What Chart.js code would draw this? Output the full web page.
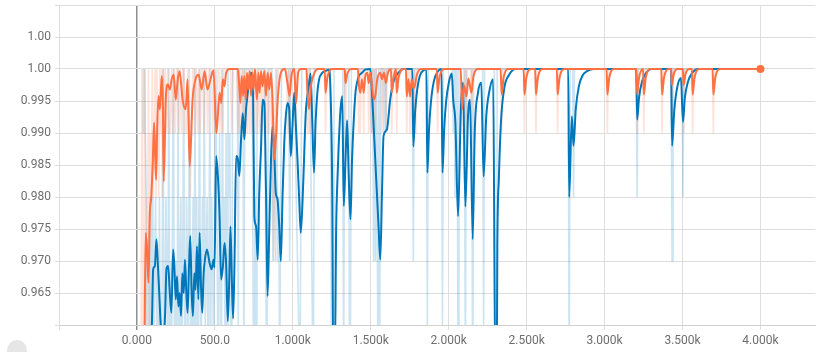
<!DOCTYPE html>
<html>
<head>
<meta charset="utf-8">
<script src="https://cdn.jsdelivr.net/npm/chart.js@4"></script>
<style>
  html, body { margin: 0; padding: 0; background: #fff; }
  #wrap { width: 819px; height: 352px; }
</style>
</head>
<body>
<div id="wrap"><canvas id="chart1"></canvas></div>

<script>
    // [step, accuracy]
    const orangeRaw = [
        [25,0.95],[32,1.0],[38,0.95],[44,0.97],[50,1.0],[56,0.96],[62,0.98],[68,0.97],[74,1.0],[80,0.96],
        [86,0.99],[92,0.98],[98,1.0],[104,0.98],[110,0.99],[116,1.0],[122,0.98],[128,1.0],[134,0.99],[140,0.98],
        [146,1.0],[152,0.99],[158,1.0],[164,0.98],[170,1.0],[176,0.99],[182,1.0],[190,0.99],[198,1.0],[206,0.99],
        [214,0.99],[222,1.0],[230,0.99],[238,1.0],[246,0.99],[254,1.0],[262,1.0],[270,0.99],[278,1.0],[286,0.99],
        [294,1.0],[302,1.0],[310,0.99],[318,0.99],[326,1.0],[334,0.99],[342,0.98],[350,0.99],[358,1.0],[366,1.0],
        [374,0.99],[382,1.0],[390,0.99],[398,1.0],[406,0.99],[414,1.0],[422,1.0],[430,0.99],[438,1.0],[446,1.0],
        [454,0.99],[462,1.0],[478,1.0],[486,0.99],[494,1.0],[502,0.99],[510,0.99],[518,1.0],[526,1.0],[534,0.99],
        [542,1.0],[550,0.99],[558,1.0],[600,1.0],[608,0.99],[616,1.0],[640,1.0],[648,0.99],[656,1.0],[662,0.99],
        [668,1.0],[674,0.99],[680,1.0],[686,0.99],[692,1.0],[698,0.99],[704,1.0],[710,0.99],[716,1.0],[724,0.99],
        [730,1.0],[738,0.99],[744,1.0],[752,1.0],[760,0.99],[766,1.0],[774,0.99],[780,1.0],[790,0.99],[796,1.0],
        [806,0.99],[812,1.0],[820,0.99],[826,1.0],[834,0.99],[840,1.0],[848,0.99],[856,1.0],[864,0.99],[872,0.98],
        [878,0.97],[884,0.99],[890,1.0],[898,0.99],[906,1.0],[960,1.0],[966,0.99],[972,1.0],[978,0.99],[984,1.0],
        [1012,1.0],[1018,0.99],[1024,1.0],[1088,1.0],[1094,0.99],[1100,1.0],[1104,0.99],[1110,1.0],[1204,1.0],[1210,0.99],
        [1216,1.0],[1332,1.0],[1338,0.99],[1344,1.0],[1417,1.0],[1423,0.99],[1429,1.0],[1433,0.99],[1439,1.0],[1449,1.0],
        [1455,0.99],[1461,1.0],[1481,1.0],[1487,0.99],[1493,1.0],[1502,1.0],[1508,0.99],[1514,1.0],[1519,0.99],[1525,1.0],
        [1529,0.99],[1535,1.0],[1566,1.0],[1572,0.99],[1578,1.0],[1591,1.0],[1597,0.99],[1603,1.0],[1629,1.0],[1635,0.99],
        [1641,1.0],[1661,1.0],[1667,0.99],[1673,1.0],[1725,1.0],[1731,0.99],[1737,1.0],[1746,1.0],[1752,0.99],[1758,1.0],
        [1778,1.0],[1784,0.99],[1790,1.0],[1923,1.0],[1929,0.99],[1935,1.0],[2080,1.0],[2086,0.99],[2092,0.99],[2098,1.0],
        [2108,1.0],[2114,0.99],[2120,1.0],[2140,1.0],[2146,0.99],[2152,1.0],[2334,1.0],[2340,0.99],[2346,1.0],[2480,1.0],
        [2486,0.99],[2492,1.0],[2554,1.0],[2560,0.99],[2566,1.0],[2693,1.0],[2699,0.99],[2705,1.0],[3012,1.0],[3018,0.99],
        [3024,1.0],[3203,1.0],[3209,0.99],[3215,1.0],[3246,1.0],[3252,0.99],[3258,1.0],[3363,1.0],[3369,0.99],[3375,1.0],
        [3426,1.0],[3432,0.99],[3438,1.0],[3501,1.0],[3507,0.99],[3513,1.0],[3559,1.0],[3565,0.99],[3571,1.0],[3692,1.0],
        [3698,0.99],[3704,1.0],[4000,1.0]
    ];

    const orangeSmooth = [
        [48,0.955],[56,0.9744],[64,0.9723],[74,0.9666],[82,0.977],[92,0.980],[102,0.9858],[110,0.9916],[116,0.987],[123,0.9827],
        [130,0.991],[138,0.9958],[147,0.9937],[153,0.9963],[160,0.9989],[166,0.995],[172,0.9824],[185,0.9952],[198,0.9976],[211,0.9968],
        [223,0.9984],[236,0.9991],[249,0.9952],[262,0.9984],[274,0.9996],[293,0.9952],[313,0.9937],[325,0.9984],[338,0.9848],[357,0.9952],
        [376,0.9984],[396,0.9991],[415,0.9968],[434,0.9996],[453,0.9968],[472,0.9984],[491,0.9998],[510,0.990],[530,0.9963],[541,0.9947],
        [551,0.9984],[562,0.9973],[572,0.9994],[594,1.0],[647,1.0],[655,0.9978],[664,0.9947],[672,0.9989],[681,0.9958],[689,0.9989],
        [698,0.9952],[706,0.9994],[715,0.9968],[723,0.9997],[732,0.9958],[740,0.9994],[749,0.9968],[757,1.0],[770,0.9952],[779,0.9994],
        [787,0.9963],[796,0.9997],[806,0.9973],[817,0.9997],[828,0.9958],[838,0.9994],[849,0.9968],[860,0.9994],[870,0.9952],[881,0.9859],
        [892,0.9895],[902,0.9947],[915,0.9984],[928,0.9997],[949,1.0],[966,0.9978],[979,0.9958],[991,0.9989],[1009,1.0],[1021,0.9947],
        [1034,0.9994],[1051,1.0],[1088,1.0],[1093,0.9968],[1104,0.9937],[1117,0.9974],[1134,0.9991],[1160,1.0],[1204,1.0],[1210,0.9963],
        [1222,0.9987],[1255,1.0],[1333,1.0],[1338,0.9978],[1350,0.9993],[1380,1.0],[1418,1.0],[1423,0.9978],[1433,0.9963],[1444,0.9984],
        [1455,0.9963],[1465,0.9989],[1478,0.9994],[1487,0.9978],[1497,0.9994],[1508,0.9973],[1519,0.9952],[1529,0.9958],[1542,0.9984],[1561,0.9994],
        [1572,0.9984],[1585,0.9994],[1597,0.9978],[1610,0.9994],[1630,1.0],[1635,0.9963],[1647,0.9987],[1662,1.0],[1667,0.9963],[1679,0.9987],
        [1710,1.0],[1726,1.0],[1731,0.9957],[1742,0.9984],[1752,0.9957],[1763,0.9984],[1773,0.997],[1784,0.9975],[1796,0.9991],[1825,1.0],
        [1924,1.0],[1929,0.9963],[1941,0.9987],[1975,1.0],[2077,1.0],[2086,0.9937],[2098,0.9975],[2114,0.9957],[2126,0.9985],[2146,0.9963],
        [2158,0.9987],[2190,1.0],[2333,1.0],[2340,0.996],[2352,0.9986],[2385,1.0],[2481,1.0],[2486,0.996],[2498,0.9986],[2530,1.0],
        [2555,1.0],[2560,0.996],[2572,0.9986],[2605,1.0],[2694,1.0],[2699,0.996],[2711,0.9986],[2745,1.0],[3013,1.0],[3018,0.996],
        [3030,0.9986],[3062,1.0],[3204,1.0],[3209,0.996],[3221,0.9986],[3247,1.0],[3252,0.996],[3264,0.9986],[3297,1.0],[3364,1.0],
        [3369,0.996],[3381,0.9986],[3414,1.0],[3427,1.0],[3432,0.9975],[3444,0.9992],[3470,1.0],[3502,1.0],[3507,0.9975],[3519,0.9992],
        [3545,1.0],[3560,1.0],[3565,0.996],[3577,0.9986],[3610,1.0],[3693,1.0],[3698,0.996],[3710,0.9986],[3743,1.0],[4000,1.0]
    ];

    const blueRaw = [
        [38,0.99],[42,1.0],[46,0.99],[50,1.0],[54,0.99],[60,0.98],[66,0.95],[72,0.97],[78,0.95],[84,0.98],
        [90,0.96],[96,0.97],[102,0.98],[108,0.95],[114,0.97],[120,0.98],[126,0.96],[132,0.97],[138,0.95],[144,0.98],
        [150,0.96],[156,0.95],[162,0.97],[168,1.0],[174,0.95],[180,0.96],[186,0.98],[192,0.97],[198,0.95],[204,1.0],
        [210,0.96],[216,0.97],[222,0.95],[228,0.98],[234,1.0],[240,0.96],[246,0.95],[252,0.97],[258,0.96],[264,1.0],
        [270,0.95],[276,0.97],[282,0.98],[288,0.95],[294,0.97],[300,1.0],[306,0.96],[312,0.95],[318,0.98],[324,0.97],
        [330,0.95],[336,1.0],[342,0.97],[348,0.95],[354,0.96],[360,0.98],[366,0.95],[372,1.0],[378,0.96],[384,0.98],
        [390,0.95],[396,0.97],[402,1.0],[408,0.95],[414,0.96],[420,0.98],[426,0.97],[432,1.0],[438,0.96],[444,0.97],
        [450,0.98],[456,0.95],[462,0.97],[468,1.0],[474,0.96],[480,0.98],[486,0.97],[492,0.95],[500,0.99],[506,1.0],
        [512,0.98],[518,0.96],[524,0.95],[530,0.99],[536,0.97],[542,0.95],[548,1.0],[554,0.97],[560,0.98],[566,0.95],
        [572,0.99],[578,0.95],[584,1.0],[590,0.98],[596,0.99],[602,0.96],[608,0.95],[614,1.0],[644,1.0],[650,0.96],
        [656,1.0],[680,1.0],[686,0.95],[692,1.0],[740,1.0],[746,0.96],[752,0.95],[758,0.98],[764,0.95],[770,0.99],
        [776,1.0],[820,1.0],[826,0.97],[832,0.95],[838,0.97],[844,1.0],[866,1.0],[872,0.97],[878,0.99],[884,0.98],
        [890,0.97],[896,1.0],[904,0.97],[910,0.98],[916,0.95],[922,0.98],[928,1.0],[974,1.0],[980,0.97],[986,1.0],
        [1010,1.0],[1016,0.99],[1022,0.98],[1030,0.97],[1038,0.96],[1046,0.95],[1052,0.98],[1058,1.0],[1110,1.0],[1118,0.98],
        [1126,0.96],[1132,0.95],[1138,1.0],[1240,1.0],[1246,0.97],[1252,0.90],[1258,0.90],[1264,1.0],[1320,1.0],[1326,0.95],
        [1332,1.0],[1358,1.0],[1364,0.95],[1370,0.96],[1376,1.0],[1500,1.0],[1506,0.99],[1512,1.0],[1518,0.97],[1524,1.0],
        [1530,0.97],[1536,1.0],[1545,0.96],[1551,1.0],[1557,0.95],[1563,1.0],[1578,1.0],[1584,0.99],[1590,1.0],[1597,0.99],
        [1603,1.0],[1767,1.0],[1773,0.97],[1779,1.0],[1857,1.0],[1863,0.96],[1869,1.0],[1954,1.0],[1960,0.96],[1966,1.0],
        [2023,1.0],[2029,0.99],[2035,1.0],[2040,0.98],[2046,1.0],[2054,1.0],[2060,0.95],[2066,1.0],[2101,1.0],[2107,0.95],
        [2113,1.0],[2148,1.0],[2154,0.94],[2160,1.0],[2218,1.0],[2224,0.96],[2230,1.0],[2293,1.0],[2299,0.90],[2305,0.90],
        [2311,1.0],[2767,1.0],[2773,0.95],[2779,1.0],[2795,1.0],[2801,0.98],[2807,1.0],[3203,1.0],[3209,0.98],[3215,1.0],
        [3427,1.0],[3433,0.97],[3439,1.0],[3497,1.0],[3503,0.98],[3509,1.0],[4000,1.0]
    ];

    const blueSmooth = [
        [70,0.955],[96,0.9603],[104,0.9687],[115,0.9692],[125,0.9734],[134,0.9697],[143,0.965],[151,0.9608],[160,0.9582],[172,0.9582],
        [181,0.9619],[189,0.9687],[200,0.9692],[211,0.965],[221,0.9619],[232,0.9718],[240,0.9692],[249,0.964],[257,0.9676],[266,0.9629],
        [274,0.965],[283,0.9614],[291,0.9681],[300,0.965],[308,0.9702],[317,0.965],[325,0.9619],[334,0.9692],[342,0.9739],[351,0.965],
        [359,0.9614],[368,0.9681],[376,0.9655],[385,0.9723],[394,0.964],[402,0.9744],[411,0.9661],[419,0.9619],[428,0.9681],[436,0.9702],
        [449,0.9718],[466,0.9697],[479,0.9687],[491,0.9702],[498,0.969],[508,0.9864],[520,0.983],[530,0.977],[540,0.9671],[551,0.969],
        [562,0.9728],[572,0.9697],[583,0.9606],[592,0.967],[600,0.9754],[609,0.967],[617,0.961],[626,0.970],[636,0.9864],[647,0.986],
        [657,0.9833],[668,0.989],[679,0.9931],[689,0.989],[700,0.9937],[711,0.9963],[721,0.9984],[732,0.9994],[745,0.9968],[753,0.977],
        [764,0.9755],[775,0.9702],[785,0.981],[796,0.9875],[806,0.9952],[817,0.9947],[828,0.981],[838,0.9645],[849,0.975],[860,0.9858],
        [870,0.991],[881,0.9869],[891,0.9806],[902,0.9796],[913,0.9754],[923,0.970],[934,0.980],[945,0.9884],[955,0.9926],[966,0.9947],
        [977,0.9937],[987,0.9864],[998,0.9911],[1009,0.9963],[1020,0.991],[1030,0.9858],[1041,0.9796],[1051,0.9744],[1066,0.9817],[1083,0.9931],
        [1100,0.9968],[1114,0.9993],[1125,0.9916],[1136,0.9838],[1146,0.9916],[1157,0.9962],[1168,0.9983],[1189,0.9994],[1210,0.9997],[1231,0.9999],
        [1242,0.9963],[1253,0.9806],[1259,0.955],[1270,0.955],[1278,0.975],[1287,0.9832],[1295,0.9885],[1306,0.9937],[1317,0.9958],[1327,0.9786],
        [1338,0.9858],[1348,0.992],[1359,0.983],[1370,0.9765],[1380,0.9858],[1391,0.992],[1402,0.9963],[1412,0.9979],[1423,0.9989],[1444,0.9994],
        [1465,0.9999],[1497,1.0],[1508,0.9963],[1529,0.9858],[1550,0.9754],[1561,0.9702],[1572,0.9806],[1582,0.9895],[1603,0.9905],[1625,0.9953],
        [1646,0.998],[1667,0.9991],[1688,0.9997],[1710,1.0],[1767,1.0],[1773,0.9879],[1785,0.9935],[1797,0.9966],[1816,0.999],[1840,0.9998],
        [1857,1.0],[1863,0.9838],[1874,0.9906],[1886,0.9948],[1905,0.9981],[1930,0.9996],[1954,1.0],[1960,0.9838],[1971,0.9906],[1983,0.9948],
        [2002,0.998],[2020,0.9993],[2029,0.9952],[2043,0.9916],[2060,0.977],[2078,0.9937],[2092,0.9979],[2107,0.9785],[2124,0.9926],[2137,0.9952],
        [2154,0.9734],[2167,0.9901],[2188,0.9963],[2209,0.9979],[2224,0.9832],[2241,0.9926],[2263,0.9968],[2285,0.9984],[2300,0.95],[2308,0.95],
        [2312,0.972],[2322,0.983],[2336,0.992],[2358,0.9972],[2385,0.999],[2430,1.0],[2767,1.0],[2773,0.980],[2790,0.9926],[2801,0.988],
        [2815,0.9937],[2836,0.9974],[2857,0.9989],[2890,0.9997],[2930,1.0],[3203,1.0],[3209,0.9921],[3221,0.9955],[3240,0.998],[3270,0.9995],
        [3300,1.0],[3427,1.0],[3433,0.988],[3447,0.9935],[3465,0.997],[3490,0.9986],[3503,0.9917],[3515,0.9955],[3535,0.998],[3560,0.9993],
        [3600,1.0],[4000,1.0]
    ];

    const xTicks = [-500, 0, 500, 1000, 1500, 2000, 2500, 3000, 3500, 4000];
    const yTicks = [0.96, 0.965, 0.97, 0.975, 0.98, 0.985, 0.99, 0.995, 1.0, 1.005, 1.01];

    function toPoints(rows) {
        return rows.map(([x, y]) => ({ x: x, y: y }));
    }

    function stepLabel(v) {
        if (v === 0) return '0.000';
        if (Math.abs(v) < 1000) return v.toFixed(1);
        return (v / 1000).toFixed(3) + 'k';
    }

    // the little round button cut off at the bottom left
    const cornerButton = {
        id: 'cornerButton',
        afterDraw(chart) {
            const c = chart.ctx;
            c.save();
            c.fillStyle = '#e6e6e6';
            c.beginPath();
            c.arc(17, 350, 10, 0, Math.PI * 2);
            c.fill();
            c.restore();
        }
    };

    const ctx = document.getElementById('chart1');
    const lastOrange = orangeSmooth.length - 1;
    const tickFont = { family: 'Roboto', size: 12 };

    new Chart(ctx, {
        type: 'line',
        data: {
            datasets: [
                {
                    data: toPoints(orangeSmooth),
                    borderColor: '#ff7043',
                    backgroundColor: '#ff7043',
                    borderWidth: 2,
                    cubicInterpolationMode: 'monotone',
                    pointRadius: (c) => c.dataIndex === lastOrange ? 4 : 0,
                    pointBorderWidth: 0,
                    order: 0
                },
                {
                    data: toPoints(blueSmooth),
                    borderColor: '#0077bb',
                    borderWidth: 2,
                    cubicInterpolationMode: 'monotone',
                    pointRadius: 0,
                    order: 1
                },
                {
                    data: toPoints(orangeRaw),
                    borderColor: 'rgba(255, 112, 67, 0.2)',
                    borderWidth: 1.6,
                    tension: 0,
                    pointRadius: 0,
                    order: 2
                },
                {
                    data: toPoints(blueRaw),
                    borderColor: 'rgba(0, 119, 187, 0.2)',
                    borderWidth: 1.6,
                    tension: 0,
                    pointRadius: 0,
                    order: 3
                }
            ]
        },
        options: {
            responsive: true,
            maintainAspectRatio: false,
            animation: false,
            events: [],
            layout: { padding: { top: 5, right: 0, bottom: 0, left: 0 } },
            plugins: {
                legend: { display: false },
                tooltip: { enabled: false }
            },
            scales: {
                x: {
                    type: 'linear',
                    min: -500,
                    max: 4350,
                    afterBuildTicks: (scale) => {
                        scale.ticks = xTicks.map(v => ({ value: v }));
                    },
                    afterFit: (scale) => {
                        scale.height = 27;
                        scale.paddingLeft = 0;
                        scale.paddingRight = 0;
                    },
                    grid: {
                        color: (c) => (c.tick && c.tick.value === 0) ? '#8f8f8f' : '#dedede',
                        lineWidth: (c) => (c.tick && c.tick.value === 0) ? 1.5 : 1,
                        tickLength: 5
                    },
                    border: { color: '#d0d0d0' },
                    ticks: {
                        maxRotation: 0,
                        autoSkip: false,
                        padding: 4,
                        color: '#6e6e6e',
                        font: tickFont,
                        callback: (v) => v < 0 ? '' : stepLabel(v)
                    }
                },
                y: {
                    min: 0.96,
                    max: 1.01,
                    afterBuildTicks: (scale) => {
                        scale.ticks = yTicks.map(v => ({ value: v }));
                    },
                    afterFit: (scale) => {
                        scale.width = 59;
                        scale.paddingTop = 0;
                        scale.paddingBottom = 0;
                    },
                    grid: {
                        color: '#dedede',
                        tickLength: 4
                    },
                    border: { color: '#dedede' },
                    ticks: {
                        padding: 4,
                        color: '#6e6e6e',
                        font: tickFont,
                        callback: (v) => (v < 0.9625 || v > 1.0075) ? '' : Number(v).toPrecision(3)
                    }
                }
            }
        },
        plugins: [cornerButton]
    });
</script>
</body>
</html>
